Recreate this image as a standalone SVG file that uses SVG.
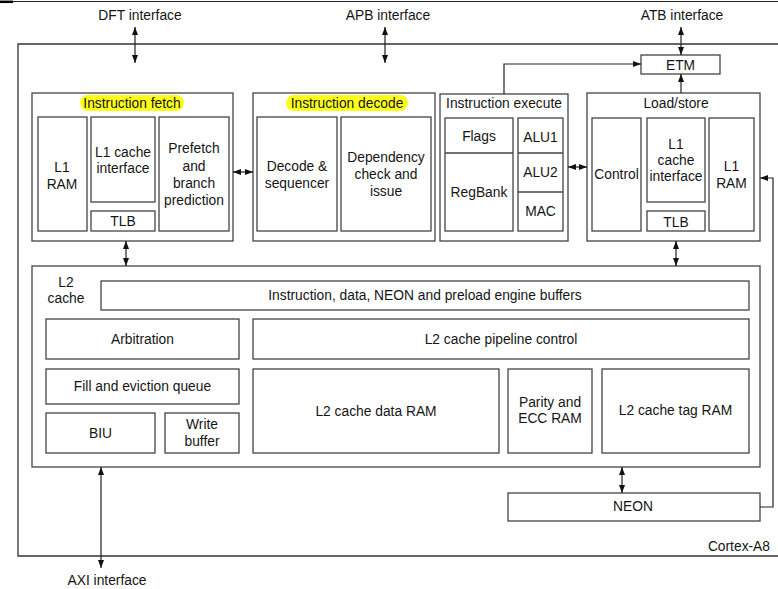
<svg xmlns="http://www.w3.org/2000/svg" width="778" height="589" viewBox="0 0 778 589">
  <defs>
    <marker id="ah" viewBox="0 0 8 6" refX="8" refY="3" markerWidth="8" markerHeight="6" markerUnits="userSpaceOnUse" orient="auto-start-reverse">
      <path d="M0,0 L8,3 L0,6 z" fill="#111"/>
    </marker>
    <style>
      .box{fill:#fff;stroke:#444;stroke-width:1.3}
      .frame{fill:none;stroke:#333;stroke-width:1.3}
      .t{font-family:"Liberation Sans",Arial,sans-serif;font-size:13.8px;fill:#151515;text-anchor:middle}
      .hl{fill:#ffff1e;stroke:none}
      .c{fill:none;stroke:#222;stroke-width:1.2}
      .bi{marker-start:url(#ah);marker-end:url(#ah)}
      .one{marker-end:url(#ah)}
    </style>
  </defs>

  <rect width="778" height="589" fill="#fff"/>

  <!-- page edge rule -->
  <line x1="0" y1="1.5" x2="778" y2="1.5" stroke="#222" stroke-width="1"/>
  <line x1="0" y1="1.8" x2="13" y2="1.8" stroke="#000" stroke-width="2.5"/>

  <!-- Cortex-A8 outline -->
  <g id="cortex-a8">
    <path class="frame" d="M778,44 H18 V556 H778"/>
    <text class="t" x="770" y="551" style="text-anchor:end">Cortex-A8</text>
  </g>

  <!-- interface labels -->
  <g id="dft-interface"><text class="t" x="140" y="19.5">DFT interface</text></g>
  <g id="apb-interface"><text class="t" x="388" y="19.5">APB interface</text></g>
  <g id="atb-interface"><text class="t" x="682" y="19.5">ATB interface</text></g>
  <g id="axi-interface"><text class="t" x="107" y="584.5">AXI interface</text></g>

  <!-- Instruction fetch -->
  <g id="instruction-fetch">
    <rect class="box" x="32" y="93" width="201" height="148"/>
    <rect class="hl" x="80" y="95" width="104" height="16" rx="8"/>
    <text class="t" x="132" y="108">Instruction fetch</text>
    <rect class="box" x="38" y="117" width="49" height="114"/>
    <text class="t" x="62" y="171.5">L1</text>
    <text class="t" x="62" y="188.5">RAM</text>
    <rect class="box" x="91" y="117" width="64" height="85"/>
    <text class="t" x="123" y="156.5">L1 cache</text>
    <text class="t" x="123" y="172.5">interface</text>
    <rect class="box" x="91" y="211" width="64" height="20"/>
    <text class="t" x="123" y="226">TLB</text>
    <rect class="box" x="159" y="117" width="70" height="114"/>
    <text class="t" x="194" y="152.5">Prefetch</text>
    <text class="t" x="194" y="170.5">and</text>
    <text class="t" x="194" y="187.5">branch</text>
    <text class="t" x="194" y="204.5">prediction</text>
  </g>

  <!-- Instruction decode -->
  <g id="instruction-decode">
    <rect class="box" x="253" y="93" width="182" height="148"/>
    <rect class="hl" x="286" y="95" width="122" height="16" rx="8"/>
    <text class="t" x="347" y="108">Instruction decode</text>
    <rect class="box" x="257" y="117" width="80" height="114"/>
    <text class="t" x="297" y="171">Decode &amp;</text>
    <text class="t" x="297" y="188">sequencer</text>
    <rect class="box" x="341" y="117" width="90" height="114"/>
    <text class="t" x="386" y="162">Dependency</text>
    <text class="t" x="386" y="179">check and</text>
    <text class="t" x="386" y="196">issue</text>
  </g>

  <!-- Instruction execute -->
  <g id="instruction-execute">
    <rect class="box" x="440" y="94" width="128" height="147"/>
    <text class="t" x="504" y="108">Instruction execute</text>
    <rect class="box" x="445" y="118" width="68" height="113"/>
    <line x1="445" y1="153" x2="513" y2="153" stroke="#444" stroke-width="1.3"/>
    <text class="t" x="479" y="141">Flags</text>
    <text class="t" x="479" y="197">RegBank</text>
    <rect class="box" x="518" y="118" width="45" height="113"/>
    <line x1="518" y1="153" x2="563" y2="153" stroke="#444" stroke-width="1.3"/>
    <line x1="518" y1="192" x2="563" y2="192" stroke="#444" stroke-width="1.3"/>
    <text class="t" x="540.5" y="142">ALU1</text>
    <text class="t" x="540.5" y="177">ALU2</text>
    <text class="t" x="540.5" y="216">MAC</text>
  </g>

  <!-- Load/store -->
  <g id="load-store">
    <rect class="box" x="587" y="93" width="173" height="148"/>
    <text class="t" x="676" y="108">Load/store</text>
    <rect class="box" x="592" y="118" width="49" height="113"/>
    <text class="t" x="616.5" y="179">Control</text>
    <rect class="box" x="647" y="118" width="58" height="84"/>
    <text class="t" x="676" y="149">L1</text>
    <text class="t" x="676" y="164.5">cache</text>
    <text class="t" x="676" y="181">interface</text>
    <rect class="box" x="647" y="211" width="58" height="20"/>
    <text class="t" x="676" y="226.5">TLB</text>
    <rect class="box" x="709" y="118" width="45" height="113"/>
    <text class="t" x="731.5" y="171">L1</text>
    <text class="t" x="731.5" y="188">RAM</text>
  </g>

  <!-- ETM -->
  <g id="etm">
    <rect class="box" x="641" y="55" width="79" height="19"/>
    <text class="t" x="680.5" y="69.5">ETM</text>
  </g>

  <!-- L2 cache -->
  <g id="l2-cache">
    <rect class="box" x="32" y="266" width="728" height="201"/>
    <text class="t" x="66" y="287">L2</text>
    <text class="t" x="66" y="303">cache</text>
    <rect class="box" x="101" y="281" width="648" height="29"/>
    <text class="t" x="425" y="300">Instruction, data, NEON and preload engine buffers</text>
    <rect class="box" x="46" y="319" width="193" height="40"/>
    <text class="t" x="142.5" y="344">Arbitration</text>
    <rect class="box" x="253" y="319" width="496" height="40"/>
    <text class="t" x="501" y="344">L2 cache pipeline control</text>
    <rect class="box" x="46" y="369" width="193" height="35"/>
    <text class="t" x="142.5" y="391">Fill and eviction queue</text>
    <rect class="box" x="46" y="413" width="109" height="40"/>
    <text class="t" x="100.5" y="437.5">BIU</text>
    <rect class="box" x="165" y="413" width="74" height="40"/>
    <text class="t" x="202" y="429">Write</text>
    <text class="t" x="202" y="446">buffer</text>
    <rect class="box" x="253" y="369" width="246" height="84"/>
    <text class="t" x="376" y="416">L2 cache data RAM</text>
    <rect class="box" x="508" y="369" width="84" height="84"/>
    <text class="t" x="550" y="407">Parity and</text>
    <text class="t" x="550" y="423">ECC RAM</text>
    <rect class="box" x="602" y="369" width="147" height="84"/>
    <text class="t" x="675.5" y="415">L2 cache tag RAM</text>
  </g>

  <!-- NEON -->
  <g id="neon">
    <rect class="box" x="508" y="493" width="252" height="28"/>
    <text class="t" x="633" y="511">NEON</text>
  </g>

  <!-- connectors -->
  <g id="connectors">
    <line class="c bi" x1="135" y1="27" x2="135" y2="63"/>
    <line class="c bi" x1="385" y1="27" x2="385" y2="63"/>
    <line class="c bi" x1="681" y1="27" x2="681" y2="55"/>
    <line class="c one" x1="681" y1="93" x2="681" y2="74"/>
    <polyline class="c one" points="504,94 504,64 641,64"/>
    <line class="c bi" x1="233" y1="172" x2="253" y2="172"/>
    <line class="c bi" x1="568" y1="167" x2="587" y2="167"/>
    <line class="c bi" x1="126" y1="241" x2="126" y2="266"/>
    <line class="c bi" x1="676" y1="241" x2="676" y2="266"/>
    <line class="c bi" x1="622" y1="467" x2="622" y2="493"/>
    <line class="c bi" x1="101" y1="467" x2="101" y2="568"/>
    <polyline class="c one" points="760,507 773,507 773,178 760,178"/>
  </g>
</svg>
